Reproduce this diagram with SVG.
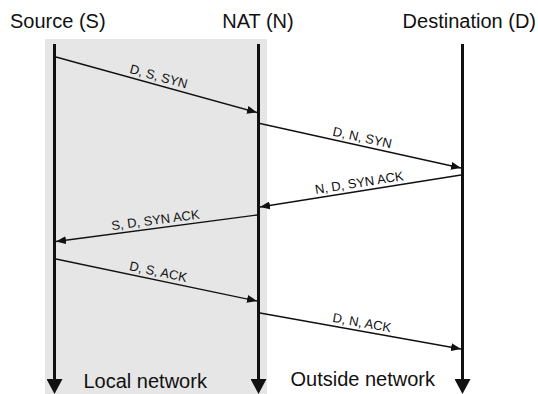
<svg xmlns="http://www.w3.org/2000/svg" width="538" height="394" viewBox="0 0 538 394">
  <style>
    .head { font-family: "Liberation Sans", Arial, sans-serif; font-size: 20px; fill: #111; }
    .zone { font-family: "Liberation Sans", Arial, sans-serif; font-size: 20px; fill: #111; }
    .msg-label { font-family: "Liberation Sans", Arial, sans-serif; font-size: 13px; fill: #111; text-anchor: middle; }
    .lifeline { stroke: #111; stroke-width: 3; fill: none; }
    .msg { stroke: #111; stroke-width: 1.3; fill: none; marker-end: url(#msgHead); }
  </style>
  <defs>
    <marker id="msgHead" markerUnits="userSpaceOnUse" markerWidth="10" markerHeight="8" refX="10" refY="4" orient="auto">
      <path d="M0,0 L10,4 L0,8 z" fill="#111"/>
    </marker>
    <marker id="lifeHead" markerUnits="userSpaceOnUse" markerWidth="15" markerHeight="16" refX="0" refY="8" orient="auto">
      <path d="M0,0 L15,8 L0,16 z" fill="#111"/>
    </marker>
  </defs>

  <rect width="538" height="394" fill="#fff"/>

  <!-- local network background -->
  <rect id="local-zone" x="45" y="39" width="222" height="355" fill="#e6e6e6"/>

  <!-- participants -->
  <g id="source">
    <text class="head" x="10" y="28">Source (S)</text>
    <line class="lifeline" x1="54.5" y1="44" x2="54.5" y2="379" marker-end="url(#lifeHead)"/>
  </g>
  <g id="nat">
    <text class="head" x="258" y="28" text-anchor="middle">NAT (N)</text>
    <line class="lifeline" x1="258.5" y1="44" x2="258.5" y2="379" marker-end="url(#lifeHead)"/>
  </g>
  <g id="destination">
    <text class="head" x="536" y="28" text-anchor="end">Destination (D)</text>
    <line class="lifeline" x1="462.5" y1="44" x2="462.5" y2="379" marker-end="url(#lifeHead)"/>
  </g>

  <!-- zone captions -->
  <g id="zone-labels">
    <text class="zone" x="83.5" y="388">Local network</text>
    <text class="zone" x="290.5" y="386">Outside network</text>
  </g>

  <!-- messages -->
  <g id="connectors">
    <line class="msg" x1="56" y1="57" x2="257" y2="112.5"/>
    <text class="msg-label" transform="translate(156.5,84.5) rotate(15.4)" y="-4">D, S, SYN</text>

    <line class="msg" x1="260" y1="123.5" x2="461" y2="168"/>
    <text class="msg-label" transform="translate(360.5,145.8) rotate(12.5)" y="-4">D, N, SYN</text>

    <line class="msg" x1="461" y1="175" x2="260" y2="207"/>
    <text class="msg-label" transform="translate(360.5,191) rotate(-9.0)" y="-4">N, D, SYN ACK</text>

    <line class="msg" x1="257" y1="215" x2="56" y2="241.5"/>
    <text class="msg-label" transform="translate(156.5,228.3) rotate(-7.5)" y="-4">S, D, SYN ACK</text>

    <line class="msg" x1="56" y1="259" x2="257" y2="301"/>
    <text class="msg-label" transform="translate(156.5,280) rotate(11.8)" y="-4">D, S, ACK</text>

    <line class="msg" x1="260" y1="313" x2="461" y2="349"/>
    <text class="msg-label" transform="translate(360.5,331) rotate(10.2)" y="-4">D, N, ACK</text>
  </g>
</svg>
